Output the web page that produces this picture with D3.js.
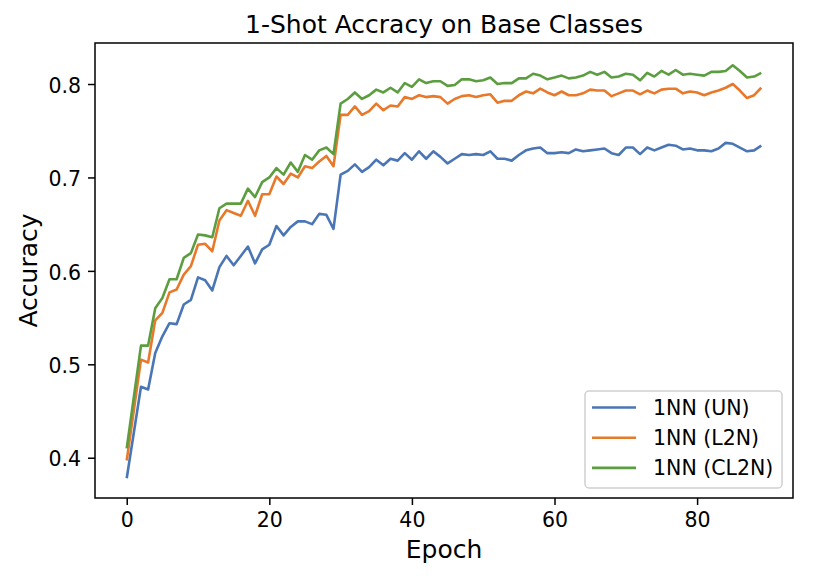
<!DOCTYPE html>
<html>
<head>
<meta charset="utf-8">
<script src="https://cdn.jsdelivr.net/npm/d3@7"></script>
<style>
  html, body { margin: 0; padding: 0; background: #fff; }
  svg { display: block; font-family: "DejaVu Sans", sans-serif; }
</style>
</head>
<body>
<svg id="chart" width="815" height="581"></svg>
<script>
// ---------------- data ----------------
const titleText = "1-Shot Accracy on Base Classes";
const xLabel = "Epoch";
const yLabel = "Accuracy";
const seriesNames = ["1NN (UN)", "1NN (L2N)", "1NN (CL2N)"];
const seriesColors = ["#4a76b5", "#e8792a", "#5c9e3f"];
const epochs = d3.range(90);
const xTicks = [0, 20, 40, 60, 80];
const yTicks = [0.4, 0.5, 0.6, 0.7, 0.8];

const accUN = [
  0.378, 0.427, 0.476, 0.473, 0.512, 0.530, 0.544, 0.543, 0.564, 0.569,
  0.593, 0.590, 0.579, 0.604, 0.616, 0.606, 0.616, 0.626, 0.608, 0.623,
  0.628, 0.648, 0.638, 0.647, 0.653, 0.653, 0.650, 0.661, 0.660, 0.645,
  0.703, 0.707, 0.714, 0.706, 0.711, 0.719, 0.713, 0.720, 0.718, 0.726,
  0.719, 0.728, 0.720, 0.728, 0.722, 0.715, 0.720, 0.725, 0.724, 0.725,
  0.724, 0.728, 0.720, 0.720, 0.718, 0.724, 0.729, 0.731, 0.732, 0.726,
  0.726, 0.727, 0.726, 0.730, 0.728, 0.729, 0.730, 0.731, 0.726, 0.724,
  0.732, 0.732, 0.725, 0.732, 0.729, 0.732, 0.735, 0.734, 0.730, 0.731,
  0.729, 0.729, 0.728, 0.731, 0.737, 0.736, 0.732, 0.728, 0.729, 0.734
];
const accL2N = [
  0.397, 0.451, 0.505, 0.502, 0.547, 0.555, 0.577, 0.580, 0.596, 0.605,
  0.628, 0.629, 0.621, 0.654, 0.665, 0.662, 0.659, 0.675, 0.659, 0.682,
  0.682, 0.701, 0.693, 0.704, 0.700, 0.712, 0.710, 0.717, 0.723, 0.712,
  0.767, 0.767, 0.776, 0.767, 0.771, 0.779, 0.772, 0.777, 0.776, 0.786,
  0.784, 0.788, 0.786, 0.787, 0.786, 0.779, 0.784, 0.787, 0.788, 0.786,
  0.788, 0.789, 0.780, 0.782, 0.782, 0.788, 0.792, 0.790, 0.795, 0.791,
  0.788, 0.792, 0.788, 0.788, 0.790, 0.794, 0.793, 0.793, 0.787, 0.790,
  0.793, 0.793, 0.789, 0.793, 0.790, 0.794, 0.795, 0.795, 0.790, 0.792,
  0.791, 0.788, 0.791, 0.793, 0.796, 0.800, 0.793, 0.785, 0.788, 0.796
];
const accCL2N = [
  0.410, 0.465, 0.520, 0.520, 0.560, 0.571, 0.591, 0.591, 0.614, 0.619,
  0.639, 0.638, 0.636, 0.667, 0.672, 0.672, 0.672, 0.688, 0.679, 0.695,
  0.700, 0.710, 0.703, 0.716, 0.706, 0.724, 0.719, 0.729, 0.732, 0.725,
  0.779, 0.784, 0.791, 0.784, 0.788, 0.794, 0.791, 0.796, 0.791, 0.801,
  0.797, 0.805, 0.801, 0.803, 0.803, 0.798, 0.799, 0.805, 0.805, 0.803,
  0.804, 0.807, 0.800, 0.801, 0.801, 0.806, 0.806, 0.811, 0.809, 0.805,
  0.807, 0.809, 0.806, 0.807, 0.809, 0.813, 0.810, 0.813, 0.807, 0.808,
  0.811, 0.810, 0.804, 0.812, 0.808, 0.814, 0.810, 0.815, 0.810, 0.811,
  0.810, 0.809, 0.813, 0.813, 0.814, 0.820, 0.814, 0.807, 0.808, 0.812
];
const seriesValues = [accUN, accL2N, accCL2N];

// ---------------- layout ----------------
const plot = { left: 95, right: 793, top: 43, bottom: 498 };
const svg = d3.select("#chart");

const x = d3.scaleLinear().domain([-4.45, 93.45]).range([plot.left, plot.right]);
const y = d3.scaleLinear().domain([0.3569, 0.8439]).range([plot.bottom, plot.top]);

// lines
const line = d3.line().x((d, i) => x(epochs[i])).y(d => y(d));
const gLines = svg.append("g").attr("clip-path", null);
seriesValues.forEach((vals, k) => {
  gLines.append("path")
    .datum(vals)
    .attr("d", line)
    .attr("fill", "none")
    .attr("stroke", seriesColors[k])
    .attr("stroke-width", 2.6)
    .attr("stroke-linejoin", "round")
    .attr("stroke-linecap", "butt");
});

// axes
const xAxis = d3.axisBottom(x).tickValues(xTicks).tickFormat(d3.format("d")).tickSize(7).tickPadding(6);
const yAxis = d3.axisLeft(y).tickValues(yTicks).tickFormat(d3.format(".1f")).tickSize(7).tickPadding(7);

const gx = svg.append("g").attr("transform", `translate(0,${plot.bottom})`).call(xAxis);
const gy = svg.append("g").attr("transform", `translate(${plot.left},0)`).call(yAxis);
[gx, gy].forEach(g => {
  g.select(".domain").remove();
  g.selectAll(".tick line").attr("stroke", "#000").attr("stroke-width", 1.5);
  g.selectAll(".tick text")
    .attr("fill", "#000")
    .style("font-family", "'DejaVu Sans', sans-serif")
    .style("font-size", "20.5px");
});
gy.selectAll(".tick text").attr("dy", "0.40em");
gx.selectAll(".tick text").attr("dy", "0.76em");

// frame
svg.append("rect")
  .attr("x", plot.left).attr("y", plot.top)
  .attr("width", plot.right - plot.left).attr("height", plot.bottom - plot.top)
  .attr("fill", "none").attr("stroke", "#000").attr("stroke-width", 1.5);

// title and labels
svg.append("text")
  .attr("x", (plot.left + plot.right) / 2).attr("y", 33)
  .attr("text-anchor", "middle")
  .style("font-size", "25px").attr("fill", "#000")
  .text(titleText);

svg.append("text")
  .attr("x", (plot.left + plot.right) / 2).attr("y", 558)
  .attr("text-anchor", "middle")
  .style("font-size", "25px").attr("fill", "#000")
  .text(xLabel);

svg.append("text")
  .attr("transform", `translate(37,${(plot.top + plot.bottom) / 2}) rotate(-90)`)
  .attr("text-anchor", "middle")
  .style("font-size", "25px").attr("fill", "#000")
  .text(yLabel);

// legend
const leg = { x: 585, y: 391, w: 197, h: 97, rowY0: 407.5, rowGap: 30.2, lineX0: 592, lineX1: 636, textX: 653 };
const gLeg = svg.append("g");
gLeg.append("rect")
  .attr("x", leg.x).attr("y", leg.y).attr("width", leg.w).attr("height", leg.h)
  .attr("rx", 4).attr("ry", 4)
  .attr("fill", "#fff").attr("fill-opacity", 0.8)
  .attr("stroke", "#d0d0d0").attr("stroke-width", 1.5);
seriesNames.forEach((name, k) => {
  const ry = leg.rowY0 + k * leg.rowGap;
  gLeg.append("line")
    .attr("x1", leg.lineX0).attr("x2", leg.lineX1)
    .attr("y1", ry).attr("y2", ry)
    .attr("stroke", seriesColors[k]).attr("stroke-width", 2.6);
  gLeg.append("text")
    .attr("x", leg.textX).attr("y", ry).attr("dy", "0.36em")
    .style("font-size", "20.5px").attr("fill", "#000")
    .text(name);
});
</script>
</body>
</html>
